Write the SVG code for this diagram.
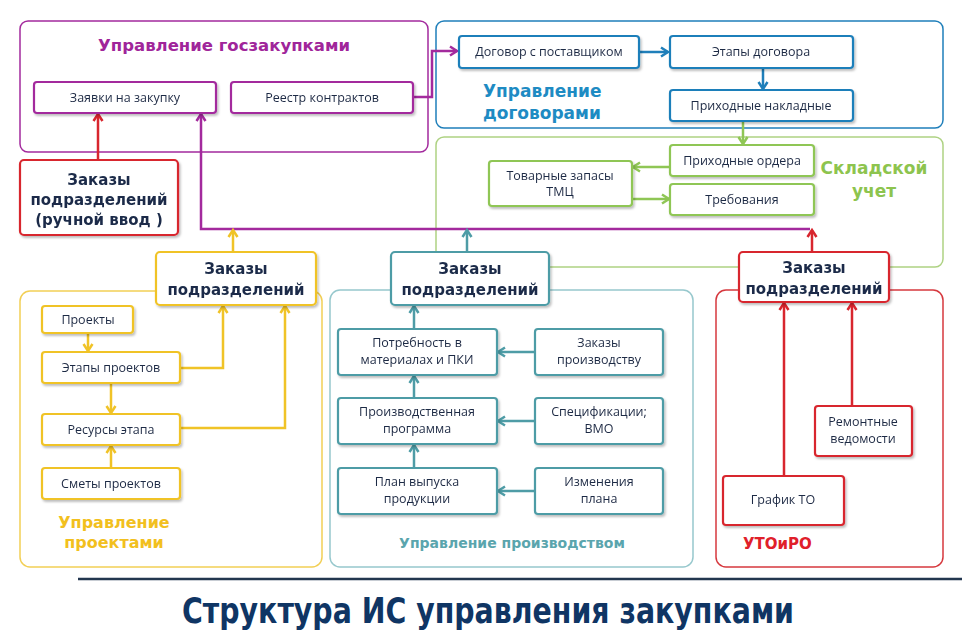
<svg xmlns="http://www.w3.org/2000/svg" width="962" height="636" viewBox="0 0 962 636">
<defs>
<style>
.box{fill:#ffffff;stroke-width:2.2}
.cont{fill:none;stroke-width:1.5}
.t{font-family:"Open Sans","Noto Sans","Liberation Sans",sans-serif;font-size:12.5px;fill:#1e2a44;text-anchor:middle}
.b{font-family:"DejaVu Sans","Liberation Sans",sans-serif;font-weight:bold;font-size:15px;fill:#1a2b48;text-anchor:middle}
.h{font-family:"DejaVu Sans","Liberation Sans",sans-serif;font-weight:bold}
.pu{stroke:#a32a9d}.rd{stroke:#d8262e}.bl{stroke:#1f7fba}.gr{stroke:#8fc655}.ye{stroke:#f0c327}.te{stroke:#4e9ca6}
.c{fill:none;stroke-width:2.5}
</style>
<filter id="sh" x="-10%" y="-10%" width="130%" height="140%">
<feDropShadow dx="1.5" dy="2" stdDeviation="1.2" flood-color="#000" flood-opacity="0.25"/>
</filter>
<marker id="mPu" markerUnits="userSpaceOnUse" markerWidth="12" markerHeight="12" refX="9" refY="6" orient="auto"><path d="M2,1.5 L9,6 L2,10.5" fill="none" stroke="#a32a9d" stroke-width="2.5"/></marker>
<marker id="mRd" markerUnits="userSpaceOnUse" markerWidth="12" markerHeight="12" refX="9" refY="6" orient="auto"><path d="M2,1.5 L9,6 L2,10.5" fill="none" stroke="#d8262e" stroke-width="2.5"/></marker>
<marker id="mBl" markerUnits="userSpaceOnUse" markerWidth="12" markerHeight="12" refX="9" refY="6" orient="auto"><path d="M2,1.5 L9,6 L2,10.5" fill="none" stroke="#1f7fba" stroke-width="2.5"/></marker>
<marker id="mGr" markerUnits="userSpaceOnUse" markerWidth="12" markerHeight="12" refX="9" refY="6" orient="auto"><path d="M2,1.5 L9,6 L2,10.5" fill="none" stroke="#8fc655" stroke-width="2.5"/></marker>
<marker id="mYe" markerUnits="userSpaceOnUse" markerWidth="12" markerHeight="12" refX="9" refY="6" orient="auto"><path d="M2,1.5 L9,6 L2,10.5" fill="none" stroke="#f0c327" stroke-width="2.5"/></marker>
<marker id="mTe" markerUnits="userSpaceOnUse" markerWidth="12" markerHeight="12" refX="9" refY="6" orient="auto"><path d="M2,1.5 L9,6 L2,10.5" fill="none" stroke="#4e9ca6" stroke-width="2.5"/></marker>
</defs>
<rect x="0" y="0" width="962" height="636" fill="#ffffff"/>

<!-- containers -->
<g id="goszakupki">
<rect class="cont pu" x="20" y="21" width="408" height="131" rx="8"/>
<text class="h" x="224" y="51" font-size="16.5" fill="#a0259a" text-anchor="middle">Управление госзакупками</text>
</g>
<g id="dogovory">
<rect class="cont bl" x="436" y="21" width="507" height="107" rx="8" stroke="#3a95c4"/>
<text class="h" x="483" y="97" font-size="17" fill="#1e8bc3">Управление</text>
<text class="h" x="483" y="119" font-size="17" fill="#1e8bc3">договорами</text>
</g>
<g id="sklad">
<rect class="cont" x="436" y="137" width="507" height="130" rx="8" stroke="#aed283"/>
<text class="h" x="874" y="174" font-size="17" fill="#8dc44e" text-anchor="middle">Складской</text>
<text class="h" x="874" y="197" font-size="17" fill="#8dc44e" text-anchor="middle">учет</text>
</g>
<g id="proekty">
<rect class="cont" x="20" y="291" width="302" height="276" rx="10" stroke="#f2cf55"/>
<text class="h" x="114" y="528" font-size="16" fill="#f2c01e" text-anchor="middle">Управление</text>
<text class="h" x="114" y="548" font-size="16" fill="#f2c01e" text-anchor="middle">проектами</text>
</g>
<g id="proizvodstvo">
<rect class="cont" x="330" y="290" width="363" height="277" rx="10" stroke="#97c8cd"/>
<text class="h" x="512" y="548" font-size="14" fill="#5aa5ad" text-anchor="middle">Управление производством</text>
</g>
<g id="utoiro">
<rect class="cont" x="716" y="290" width="227" height="277" rx="10" stroke="#d6383e"/>
<text class="h" x="743" y="549" font-size="15" fill="#e0202a">УТОиРО</text>
</g>

<!-- connectors -->
<g id="connectors">
<path class="c rd" d="M98,160 V114" marker-end="url(#mRd)"/>
<path class="c pu" d="M413,97 H432 V51 H457" marker-end="url(#mPu)"/>
<path class="c pu" d="M810,229 H201 V114" marker-end="url(#mPu)"/>
<path class="c rd" d="M812,252 V230" marker-end="url(#mRd)"/>
<path class="c ye" d="M233,252 V230" marker-end="url(#mYe)"/>
<path class="c te" d="M467,252 V230" marker-end="url(#mTe)"/>
<path class="c bl" d="M639,52 H668" marker-end="url(#mBl)"/>
<path class="c bl" d="M763,68 V89" marker-end="url(#mBl)"/>
<path class="c gr" d="M743,121 V144" marker-end="url(#mGr)"/>
<path class="c gr" d="M670,167 H633" marker-end="url(#mGr)"/>
<path class="c gr" d="M632,199 H669" marker-end="url(#mGr)"/>
<path class="c ye" d="M88,333 V351" marker-end="url(#mYe)"/>
<path class="c ye" d="M111,383 V413" marker-end="url(#mYe)"/>
<path class="c ye" d="M111,468 V446" marker-end="url(#mYe)"/>
<path class="c ye" d="M180,368 H223 V306" marker-end="url(#mYe)"/>
<path class="c ye" d="M180,428 H285 V306" marker-end="url(#mYe)"/>
<path class="c te" d="M414,329 V306" marker-end="url(#mTe)"/>
<path class="c te" d="M414,398 V376" marker-end="url(#mTe)"/>
<path class="c te" d="M414,468 V445" marker-end="url(#mTe)"/>
<path class="c te" d="M535,352 H498" marker-end="url(#mTe)"/>
<path class="c te" d="M535,421 H498" marker-end="url(#mTe)"/>
<path class="c te" d="M535,491 H498" marker-end="url(#mTe)"/>
<path class="c rd" d="M784,476 V303" marker-end="url(#mRd)"/>
<path class="c rd" d="M852,406 V303" marker-end="url(#mRd)"/>
</g>

<!-- nodes -->
<g id="zayavki" filter="url(#sh)"><rect class="box pu" x="34" y="82" width="182" height="31" rx="3"/><text class="t" x="125" y="102">Заявки на закупку</text></g>
<g id="reestr" filter="url(#sh)"><rect class="box pu" x="231" y="82" width="182" height="31" rx="3"/><text class="t" x="322" y="102">Реестр контрактов</text></g>
<g id="zakazy-ruchn" filter="url(#sh)"><rect class="box rd" x="20" y="160" width="158" height="75" rx="4"/><text class="b" x="99" y="185">Заказы</text><text class="b" x="99" y="205">подразделений</text><text class="b" x="99" y="225">(ручной ввод )</text></g>

<g id="dogovor" filter="url(#sh)"><rect class="box bl" x="459" y="36" width="180" height="32" rx="3"/><text class="t" x="549" y="56">Договор с поставщиком</text></g>
<g id="etapy-dog" filter="url(#sh)"><rect class="box bl" x="670" y="36" width="183" height="32" rx="3"/><text class="t" x="761" y="56">Этапы договора</text></g>
<g id="nakladnye" filter="url(#sh)"><rect class="box bl" x="670" y="90" width="183" height="31" rx="3"/><text class="t" x="761" y="110">Приходные накладные</text></g>

<g id="ordera" filter="url(#sh)"><rect class="box gr" x="670" y="145" width="144" height="31" rx="3"/><text class="t" x="742" y="165">Приходные ордера</text></g>
<g id="zapasy" filter="url(#sh)"><rect class="box gr" x="489" y="161" width="143" height="45" rx="3"/><text class="t" x="560" y="180">Товарные запасы</text><text class="t" x="560" y="196">ТМЦ</text></g>
<g id="trebovaniya" filter="url(#sh)"><rect class="box gr" x="670" y="184" width="144" height="31" rx="3"/><text class="t" x="742" y="204">Требования</text></g>

<g id="zakazy-pr" filter="url(#sh)"><rect class="box ye" x="156" y="252" width="160" height="53" rx="4"/><text class="b" x="236" y="274">Заказы</text><text class="b" x="236" y="295">подразделений</text></g>
<g id="proekty-n" filter="url(#sh)"><rect class="box ye" x="42" y="306" width="91" height="27" rx="3"/><text class="t" x="88" y="324">Проекты</text></g>
<g id="etapy-pr" filter="url(#sh)"><rect class="box ye" x="42" y="352" width="138" height="31" rx="3"/><text class="t" x="111" y="372">Этапы проектов</text></g>
<g id="resursy" filter="url(#sh)"><rect class="box ye" x="42" y="414" width="138" height="31" rx="3"/><text class="t" x="111" y="434">Ресурсы этапа</text></g>
<g id="smety" filter="url(#sh)"><rect class="box ye" x="42" y="468" width="138" height="31" rx="3"/><text class="t" x="111" y="488">Сметы проектов</text></g>

<g id="zakazy-prv" filter="url(#sh)"><rect class="box te" x="391" y="252" width="158" height="53" rx="4"/><text class="b" x="470" y="274">Заказы</text><text class="b" x="470" y="295">подразделений</text></g>
<g id="potrebnost" filter="url(#sh)"><rect class="box te" x="338" y="329" width="159" height="46" rx="3"/><text class="t" x="417" y="347">Потребность в</text><text class="t" x="417" y="364">материалах и ПКИ</text></g>
<g id="zakazy-proizv" filter="url(#sh)"><rect class="box te" x="535" y="329" width="128" height="46" rx="3"/><text class="t" x="599" y="347">Заказы</text><text class="t" x="599" y="364">производству</text></g>
<g id="programma" filter="url(#sh)"><rect class="box te" x="338" y="398" width="159" height="46" rx="3"/><text class="t" x="417" y="416">Производственная</text><text class="t" x="417" y="433">программа</text></g>
<g id="specifikacii" filter="url(#sh)"><rect class="box te" x="535" y="398" width="128" height="46" rx="3"/><text class="t" x="599" y="416">Спецификации;</text><text class="t" x="599" y="433">ВМО</text></g>
<g id="plan" filter="url(#sh)"><rect class="box te" x="338" y="468" width="159" height="46" rx="3"/><text class="t" x="417" y="486">План выпуска</text><text class="t" x="417" y="503">продукции</text></g>
<g id="izmeneniya" filter="url(#sh)"><rect class="box te" x="535" y="468" width="128" height="46" rx="3"/><text class="t" x="599" y="486">Изменения</text><text class="t" x="599" y="503">плана</text></g>

<g id="zakazy-uto" filter="url(#sh)"><rect class="box rd" x="739" y="252" width="150" height="50" rx="4"/><text class="b" x="814" y="273">Заказы</text><text class="b" x="814" y="294">подразделений</text></g>
<g id="remontnye" filter="url(#sh)"><rect class="box rd" x="815" y="406" width="97" height="50" rx="3"/><text class="t" x="863" y="426">Ремонтные</text><text class="t" x="863" y="443">ведомости</text></g>
<g id="grafik" filter="url(#sh)"><rect class="box rd" x="723" y="476" width="121" height="49" rx="3"/><text class="t" x="783" y="504">График ТО</text></g>

<g id="title">
<line x1="78" y1="579" x2="962" y2="579" stroke="#22364f" stroke-width="2.5"/>
<text x="182" y="623" font-family="'DejaVu Sans Condensed','Liberation Sans Narrow','Liberation Sans',sans-serif" font-weight="bold" font-size="35" fill="#0f3564" textLength="612" lengthAdjust="spacingAndGlyphs">Структура ИС управления закупками</text>
</g>
</svg>
